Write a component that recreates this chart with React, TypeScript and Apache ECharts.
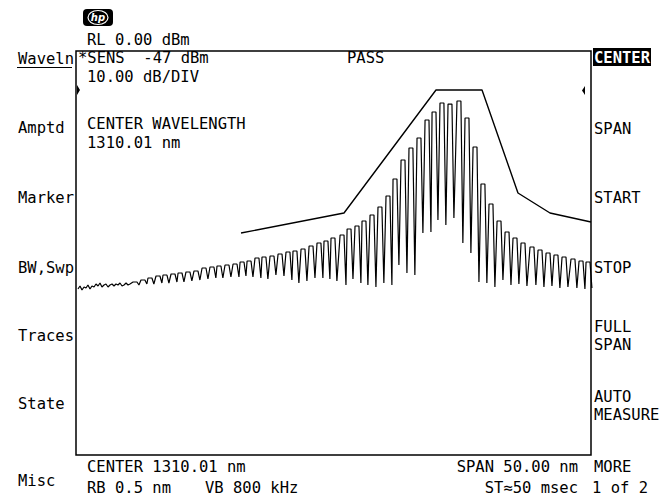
import React, { useEffect, useRef } from "react";
import * as echarts from "echarts";

// ---- axis settings (from the screen annotations) ----
const START_NM = 1285.01;
const STOP_NM = 1335.01;
const REF_DBM = 0;
const BOTTOM_DBM = -80;

// ---- noise floor at the short-wavelength end ----
const NOISE_NM = [
  1285.2, 1285.4, 1285.59, 1285.79, 1285.98, 1286.17, 1286.37, 1286.56, 1286.76,
  1286.95, 1287.15, 1287.34, 1287.53, 1287.73, 1287.92, 1288.12, 1288.31, 1288.51,
  1288.7, 1288.89, 1289.09, 1289.28, 1289.48, 1289.67, 1289.87, 1290.06, 1290.25,
];
const NOISE_DBM = [
  -47.13, -46.53, -47.33, -46.73, -46.93, -46.34, -47.13, -46.53, -46.73,
  -46.14, -46.53, -45.94, -46.73, -46.34, -46.14, -46.73, -46.34, -46.14,
  -46.53, -46.14, -46.34, -45.94, -46.53, -46.34, -45.94, -46.34, -46.14,
];

// ---- Fabry-Perot longitudinal modes ----
const MODE_NM = [
  1290.74, 1291.51, 1292.19, 1292.97, 1293.65, 1294.43, 1295.11, 1295.88, 1296.66,
  1297.44, 1298.21, 1298.89, 1299.67, 1300.45, 1301.13, 1301.81, 1302.58, 1303.26,
  1304.04, 1304.82, 1305.59, 1306.27, 1307.05, 1307.83, 1308.6, 1309.28, 1309.96,
  1310.84, 1311.52, 1312.29, 1312.97, 1313.75, 1314.52, 1315.3, 1315.98, 1316.76,
  1317.53, 1318.31, 1319.09, 1319.77, 1320.54, 1321.32, 1322.19, 1322.97, 1323.75,
  1324.52, 1325.3, 1326.08, 1326.86, 1327.63, 1328.41, 1329.28, 1330.06, 1330.84,
  1331.61, 1332.39, 1333.26, 1334.04, 1334.72,
];
const MODE_PEAK_DBM = [
  -45.74, -45.35, -44.95, -44.55, -44.36, -44.16, -43.96, -43.76, -43.56,
  -42.97, -42.77, -42.57, -42.38, -42.18, -41.78, -41.58, -40.99, -40.79,
  -40.59, -40.2, -39.8, -39.6, -39.21, -38.61, -38.02, -37.62, -37.03,
  -36.44, -35.25, -34.65, -33.66, -32.48, -30.89, -28.71, -25.35, -21.58,
  -19.21, -17.23, -13.66, -12.08, -10.3, -10.5, -9.9, -13.27, -19.01,
  -26.34, -30.3, -33.66, -35.84, -37.03, -38.02, -38.81, -39.41, -40.0,
  -40.4, -40.79, -41.19, -41.58, -41.78,
];
const MODE_VALLEY_DBM = [
  -46.34, -46.14, -46.14, -45.94, -45.94, -45.74, -45.74, -45.54, -45.35,
  -45.15, -44.95, -44.95, -44.75, -44.75, -44.55, -44.75, -44.95, -45.15,
  -44.36, -44.55, -45.35, -45.94, -45.54, -44.95, -44.95, -45.15, -45.54,
  -46.34, -45.15, -45.94, -46.34, -46.73, -45.94, -46.34, -42.38, -43.96,
  -44.36, -36.04, -35.84, -33.47, -34.46, -33.07, -38.02, -40.0, -45.74,
  -45.94, -46.73, -45.35, -46.34, -46.14, -46.53, -46.34, -46.73, -46.53,
  -46.93, -46.73, -46.93, -47.13, -46.93,
];

// ---- PASS/FAIL template ----
const MASK_NM = [1301.03, 1311.03, 1319.96, 1324.43, 1327.92, 1331.03, 1335.01];
const MASK_DBM = [-36.04, -32.08, -7.72, -7.72, -28.12, -32.08, -33.86];

// mode shape constants (resolution-bandwidth limited top, narrow dip)
const TOP_HALF_WIDTH_NM = 0.19;
const VALLEY_OFFSET_NM = 0.38;

function buildTrace(): number[][] {
  const pts: number[][] = NOISE_NM.map((x, i) => [x, NOISE_DBM[i]]);
  MODE_NM.forEach((nm, i) => {
    pts.push([nm - TOP_HALF_WIDTH_NM, MODE_PEAK_DBM[i]]);
    pts.push([nm + TOP_HALF_WIDTH_NM, MODE_PEAK_DBM[i]]);
    pts.push([nm + VALLEY_OFFSET_NM, MODE_VALLEY_DBM[i]]);
  });
  return pts;
}

const FONT = '15.5px "DejaVu Sans Mono"';
const BOLD = 'bold 15.5px "DejaVu Sans Mono"';

function txt(text: string, x: number, y: number, align: string = "left", fill = "#000", font = FONT) {
  return {
    type: "text",
    x,
    y,
    silent: true,
    style: { text, font, fill, align, verticalAlign: "middle" },
  };
}

export default function App() {
  const ref = useRef<HTMLDivElement>(null);
  useEffect(() => {
    if (!ref.current) return;
    const chart = echarts.init(ref.current, undefined, { renderer: "svg" });
    const option: any = {
      animation: false,
      backgroundColor: "#fff",
      grid: {
        show: true,
        left: 76,
        top: 51,
        width: 515,
        height: 404,
        borderColor: "#000",
        borderWidth: 1.5,
        backgroundColor: "transparent",
      },
      xAxis: { type: "value", min: START_NM, max: STOP_NM, show: false },
      yAxis: { type: "value", min: BOTTOM_DBM, max: REF_DBM, show: false },
      series: [
        {
          type: "line",
          data: buildTrace(),
          symbol: "none",
          lineStyle: { color: "#000", width: 1.2 },
          clip: true,
        },
        {
          type: "line",
          data: MASK_NM.map((x, i) => [x, MASK_DBM[i]]),
          symbol: "none",
          lineStyle: { color: "#000", width: 1.4 },
        },
      ],
      graphic: [
        // hp logo
        { type: "rect", shape: { x: 83, y: 9, width: 30, height: 17, r: 4 }, style: { fill: "#000" } },
        { type: "ellipse", shape: { cx: 98, cy: 17.5, rx: 10, ry: 7 }, style: { fill: "none", stroke: "#fff", lineWidth: 1.2 } },
        txt("hp", 98, 17.5, "center", "#fff", 'italic bold 10px "DejaVu Sans"'),
        // header
        txt("RL 0.00 dBm", 87, 40),
        txt("*SENS  -47 dBm", 78, 58),
        txt("PASS", 347, 58),
        txt("10.00 dB/DIV", 87, 76.5),
        { type: "polygon", shape: { points: [[77, 85], [80, 90], [77, 95]] }, style: { fill: "#000" } },
        { type: "polygon", shape: { points: [[585, 86], [582, 90.5], [585, 95]] }, style: { fill: "#000" } },
        txt("CENTER WAVELENGTH", 87, 123.5),
        txt("1310.01 nm", 87, 142.5),
        // left softkeys
        txt("Waveln", 18, 59),
        { type: "line", shape: { x1: 17, y1: 67.5, x2: 72, y2: 67.5 }, style: { stroke: "#000", lineWidth: 1.2 } },
        txt("Amptd", 18, 128),
        txt("Marker", 18, 197.5),
        txt("BW,Swp", 18, 267.5),
        txt("Traces", 18, 336),
        txt("State", 18, 404),
        txt("Misc", 18, 481),
        // right softkeys
        { type: "rect", shape: { x: 593, y: 48, width: 58, height: 18 }, style: { fill: "#000" } },
        txt("CENTER", 594, 57.5, "left", "#fff", BOLD),
        txt("SPAN", 594, 129),
        txt("START", 594, 198),
        txt("STOP", 594, 268),
        txt("FULL", 594, 327),
        txt("SPAN", 594, 345),
        txt("AUTO", 594, 397),
        txt("MEASURE", 594, 415),
        txt("MORE", 594, 467),
        txt("1 of 2", 592, 487.5),
        // bottom annotations
        txt("CENTER 1310.01 nm", 87, 467),
        txt("SPAN 50.00 nm", 578, 467, "right"),
        txt("RB 0.5 nm", 87, 487.5),
        txt("VB 800 kHz", 205, 487.5),
        txt("ST\u224850 msec", 578, 487.5, "right"),
      ],
    };
    chart.setOption(option);
    return () => chart.dispose();
  }, []);
  return (
    <div
      ref={ref}
      style={{ position: "fixed", left: 0, top: 0, width: 662, height: 501, background: "#fff" }}
    />
  );
}
